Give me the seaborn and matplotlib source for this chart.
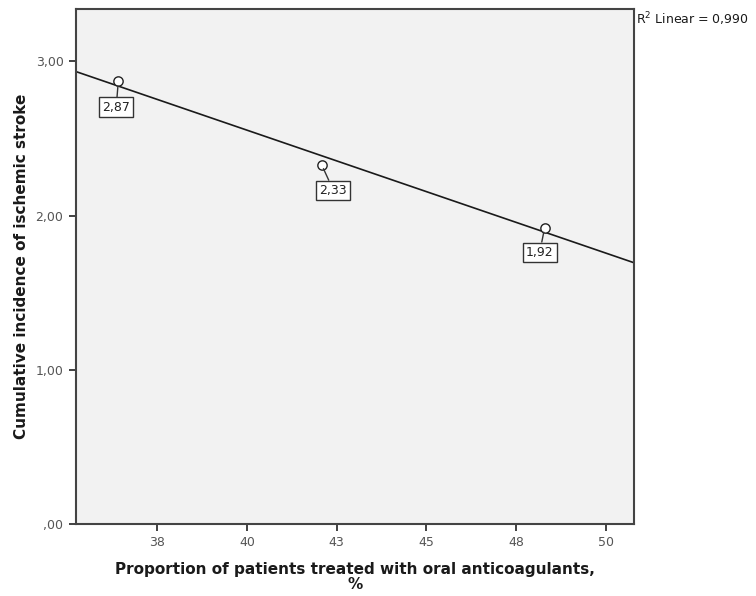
import numpy as np
import pandas as pd
import matplotlib
matplotlib.use("Agg")
import matplotlib.pyplot as plt
import seaborn as sns

# values
proportion = [36.41, 42.08, 48.30]
incidence = [2.87, 2.33, 1.92]
point_labels = ["2,87", "2,33", "1,92"]
x_ticks = [37.5, 40.0, 42.5, 45.0, 47.5, 50.0]
x_tick_labels = ["38", "40", "43", "45", "48", "50"]
y_ticks = [0.0, 1.0, 2.0, 3.0]
y_tick_labels = [",00", "1,00", "2,00", "3,00"]
r2_text = "R$^2$ Linear = 0,990"

df = pd.DataFrame({"proportion": proportion, "incidence": incidence})

sns.set_style("ticks")
plt.rcParams["font.family"] = ["DejaVu Sans"]
plt.rcParams["mathtext.fontset"] = "dejavusans"

fig = plt.figure(figsize=(7.56, 5.96), dpi=100)
ax = fig.add_axes([0.1005, 0.121, 0.738, 0.864])
ax.set_facecolor("#f2f2f2")

ax.set_xlim(35.23, 50.79)
ax.set_ylim(0, 3.34)

# fit line across the whole axis, like SPSS
sns.regplot(data=df, x="proportion", y="incidence", ax=ax, ci=None,
            truncate=False, scatter=False,
            line_kws={"color": "#1a1a1a", "linewidth": 1.2, "zorder": 2})
sns.scatterplot(data=df, x="proportion", y="incidence", ax=ax,
                marker="o", s=45, facecolor="white", edgecolor="#222222",
                linewidth=1.0, zorder=3)

ax.set_xlim(35.23, 50.79)
ax.set_ylim(0, 3.34)

offsets = [(-1.5, -18.5), (8.5, -18.5), (-3.5, -17.5)]
for x, y, lab, off in zip(proportion, incidence, point_labels, offsets):
    ax.annotate(lab, xy=(x, y), xytext=off, textcoords="offset points",
                ha="center", va="center", fontsize=9, color="#222222",
                bbox=dict(boxstyle="square,pad=0.25", fc="white",
                          ec="#333333", lw=1.0),
                arrowprops=dict(arrowstyle="-", color="#333333", lw=1.0,
                                shrinkA=0, shrinkB=3.2),
                zorder=4)

ax.set_xticks(x_ticks)
ax.set_xticklabels(x_tick_labels)
ax.set_yticks(y_ticks)
ax.set_yticklabels(y_tick_labels)
ax.tick_params(axis="both", length=5, width=1.3, color="#333333",
               labelsize=9, labelcolor="#555555", pad=4)

for side in ["left", "right", "top", "bottom"]:
    ax.spines[side].set_visible(True)
    ax.spines[side].set_color("#444444")
    ax.spines[side].set_linewidth(1.5)

ax.set_xlabel("Proportion of patients treated with oral anticoagulants,\n%",
              fontsize=11, fontweight="bold", color="#1a1a1a",
              labelpad=9, linespacing=1.0)
ax.set_ylabel("Cumulative incidence of ischemic stroke",
              fontsize=11, fontweight="bold", color="#1a1a1a", labelpad=5)

fig.text(0.841, 0.983, r2_text, ha="left", va="top", fontsize=9,
         color="#1a1a1a")

fig.savefig("out.png", dpi=100)
